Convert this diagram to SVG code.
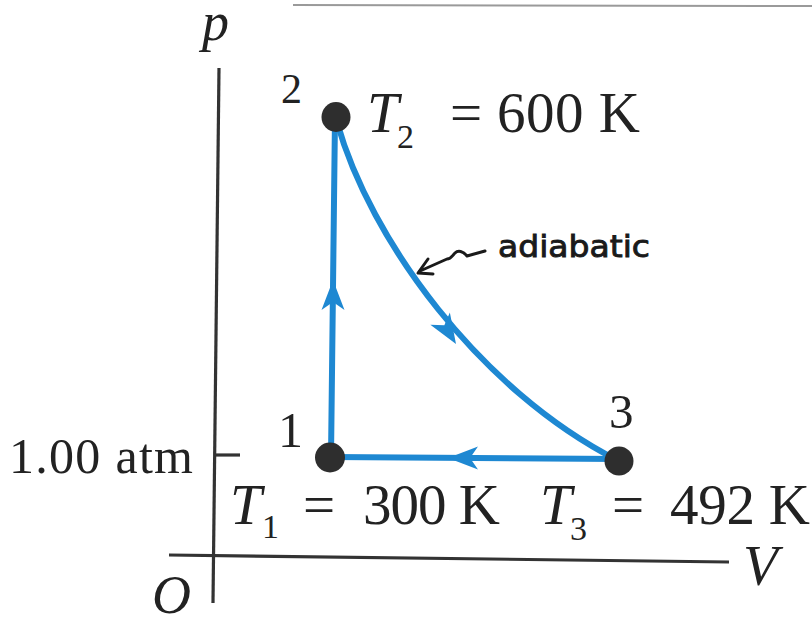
<svg xmlns="http://www.w3.org/2000/svg" width="812" height="621" viewBox="0 0 812 621">
<style>
.ax{stroke:#333;stroke-width:3.2;fill:none}
.t{font-family:"Liberation Serif","Times New Roman",serif;fill:#222}
.i{font-style:italic}
.proc{stroke:#1e88d2;stroke-width:6;fill:none;stroke-linecap:round}
.dot{fill:#2e2e2e}
.hand{stroke:#1a1a1a;stroke-width:3;fill:none;stroke-linecap:round;stroke-linejoin:round}
</style>
<defs>
<path id="ah" d="M0,0 L-30,-11.5 L-22,0 L-30,11.5 Z" fill="#1e88d2"/>
</defs>
<rect width="812" height="621" fill="#fff"/>
<line x1="293" y1="5" x2="812" y2="6" stroke="#9a9a9a" stroke-width="2"/>
<g id="axes">
<line class="ax" x1="219" y1="68" x2="213" y2="603"/>
<line class="ax" x1="169" y1="555" x2="729" y2="562"/>
<line class="ax" x1="215" y1="455" x2="240" y2="455"/>
<text class="t i" x="202" y="40" font-size="54">p</text>
<text class="t i" x="743" y="585" font-size="57">V</text>
<text class="t i" x="152" y="613" font-size="54">O</text>
<text class="t" x="9" y="473" font-size="50" textLength="184" lengthAdjust="spacing">1.00 atm</text>
</g>
<g id="connectors">
<line class="proc" x1="331" y1="457" x2="335" y2="117"/>
<path class="proc" d="M337,122 C370,240 480,390 617,460"/>
<line class="proc" x1="619" y1="459" x2="331" y2="457"/>
<use href="#ah" transform="translate(333,280) rotate(-90)"/>
<use href="#ah" transform="translate(456,344) rotate(58)"/>
<use href="#ah" transform="translate(448,458) rotate(180)"/>
</g>
<g id="node1">
<ellipse class="dot" cx="330" cy="457.5" rx="15" ry="15"/>
<text class="t" x="278" y="447" font-size="50">1</text>
<text class="t i" x="230" y="524" font-size="57">T</text>
<text class="t" x="262" y="538" font-size="34">1</text>
<text class="t" x="303" y="524" font-size="57">=</text>
<text class="t" x="363" y="524" font-size="57" textLength="137" lengthAdjust="spacing">300 K</text>
</g>
<g id="node2">
<ellipse class="dot" cx="336" cy="117" rx="14.5" ry="15"/>
<text class="t" x="281" y="103" font-size="42">2</text>
<text class="t i" x="367" y="132" font-size="57">T</text>
<text class="t" x="397" y="148" font-size="34">2</text>
<text class="t" x="450" y="132" font-size="57">=</text>
<text class="t" x="497" y="132" font-size="57" textLength="143" lengthAdjust="spacing">600 K</text>
</g>
<g id="node3">
<ellipse class="dot" cx="619" cy="461" rx="14.5" ry="14.5"/>
<text class="t" x="609" y="428" font-size="49">3</text>
<text class="t i" x="540" y="524" font-size="57">T</text>
<text class="t" x="570" y="540" font-size="34">3</text>
<text class="t" x="612" y="524" font-size="57">=</text>
<text class="t" x="670" y="524" font-size="57" textLength="140" lengthAdjust="spacing">492 K</text>
</g>
<g id="adiabatic-label">
<path class="hand" d="M485,251 L467,256 C463,251 458,250 455,253 C452,256 451,259 447,259 L420,271"/>
<path class="hand" d="M428,259 L418,273 L433,274"/>
<text x="498" y="257" font-family="'DejaVu Sans',sans-serif" font-size="30" fill="#1a1a1a" stroke="#1a1a1a" stroke-width="0.9" textLength="152" lengthAdjust="spacingAndGlyphs">adiabatic</text>
</g>
</svg>
